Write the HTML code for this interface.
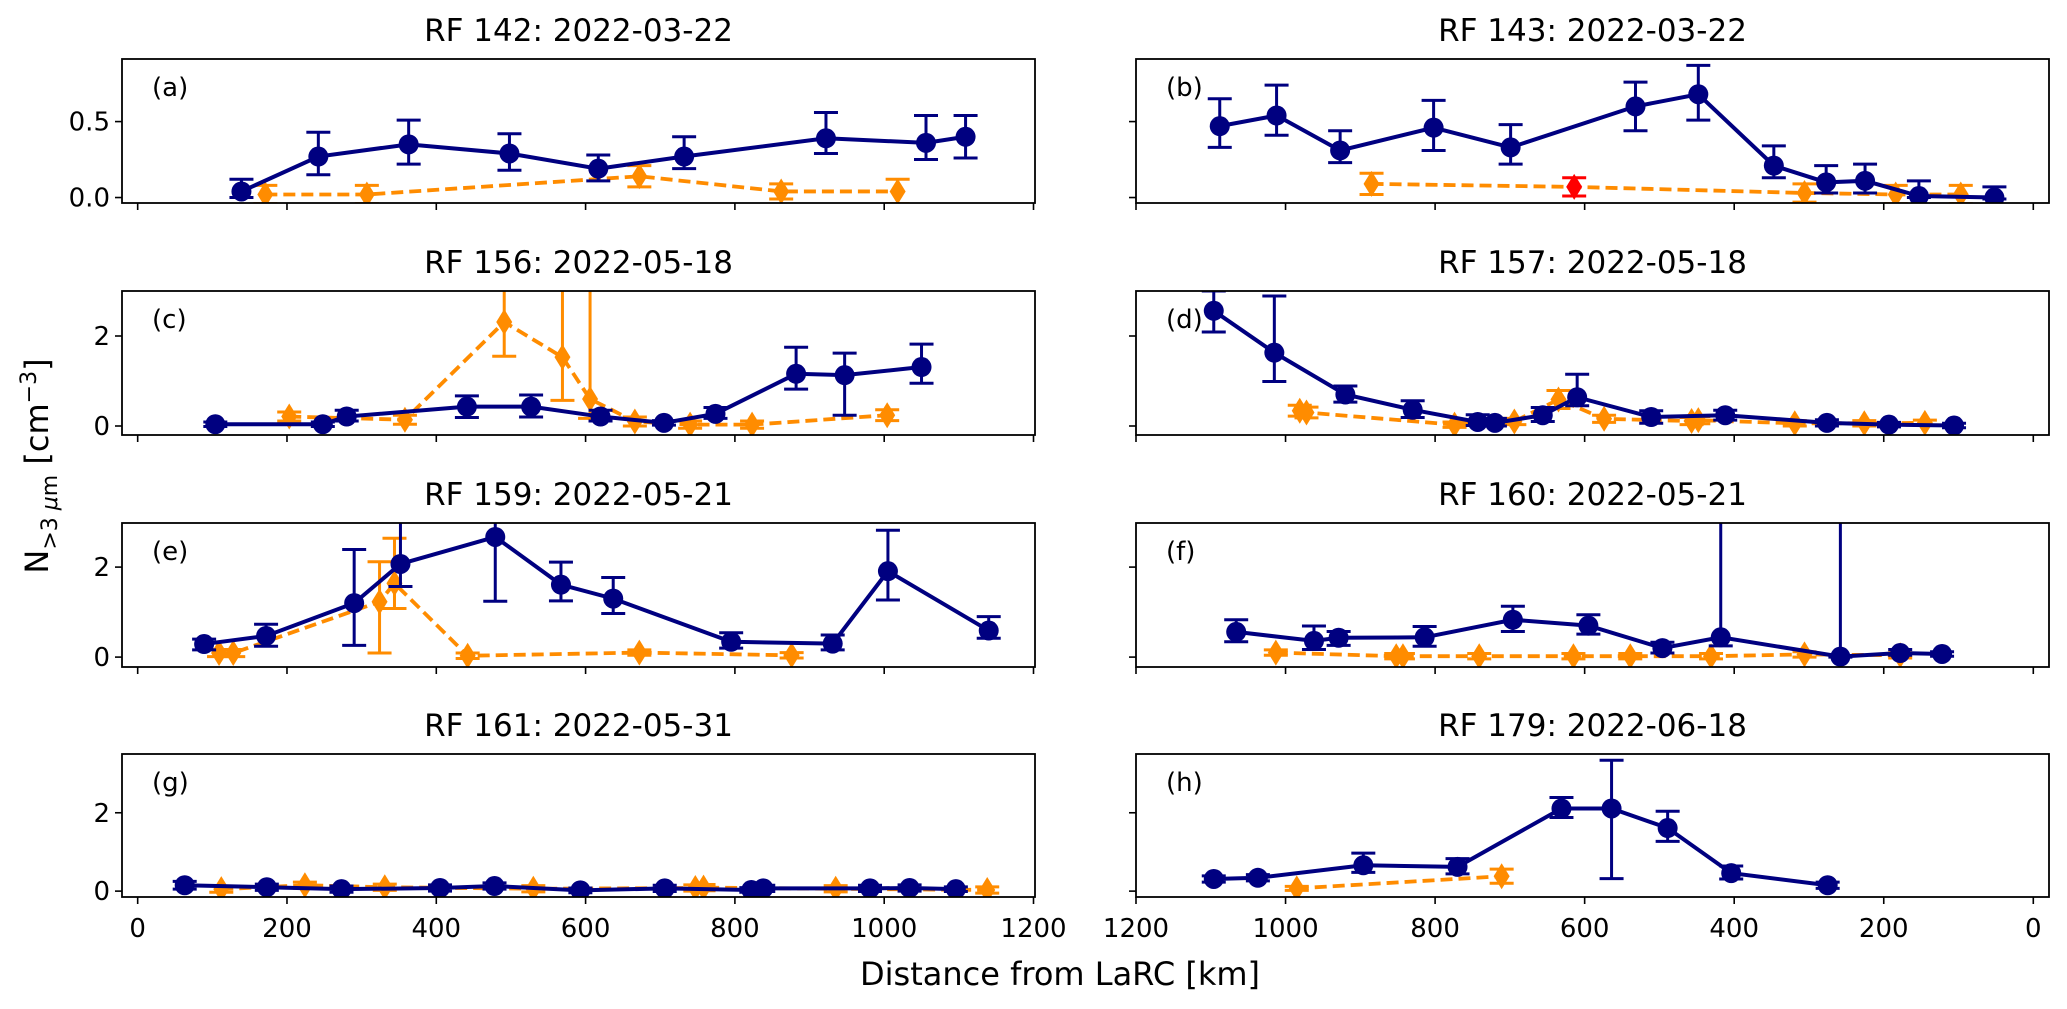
<!DOCTYPE html>
<html><head><meta charset="utf-8"><style>
html,body{margin:0;padding:0;background:#fff;}
svg{display:block;font-family:"DejaVu Sans","Liberation Sans",sans-serif;}
</style></head><body>
<svg id="fig" width="2067" height="1009" viewBox="0 0 2067 1009" xmlns="http://www.w3.org/2000/svg">
<rect x="0" y="0" width="2067" height="1009" fill="#fff"/>
<text x="1060" y="985" font-size="32" text-anchor="middle">Distance from LaRC [km]</text>
<text transform="translate(48,466) rotate(-90)" font-size="32" text-anchor="middle">N<tspan font-size="22" dy="9">&gt;3 <tspan font-style="italic">μ</tspan>m</tspan><tspan dy="-9"> [cm</tspan><tspan font-size="22" dy="-12">−3</tspan><tspan dy="12">]</tspan></text>
</svg>
<script>
// ---- data (km, value, err up, err down) ----
const aBx=[139,242,363,498,617,732,922,1056,1109];
const aBy=[0.04,0.27,0.35,0.29,0.19,0.27,0.39,0.36,0.40];
const aBu=[0.08,0.16,0.16,0.13,0.09,0.13,0.17,0.18,0.14];
const aBl=[0.04,0.12,0.13,0.11,0.08,0.08,0.10,0.11,0.14];
const aOx=[171,307,672,862,1018];
const aOy=[0.02,0.02,0.14,0.04,0.04];
const aOe=[0.06,0.06,0.07,0.05,0.08];

const bBx=[1088,1012,927,802,699,532,448,347,277,225,153,52];
const bBy=[0.47,0.54,0.31,0.46,0.33,0.60,0.68,0.21,0.10,0.11,0.01,0.00];
const bBu=[0.18,0.20,0.13,0.18,0.15,0.16,0.19,0.13,0.11,0.11,0.10,0.07];
const bBl=[0.14,0.13,0.08,0.15,0.11,0.16,0.17,0.08,0.07,0.08,0.01,0.01];
const bOx=[885,614,306,184,97];
const bOy=[0.09,0.07,0.03,0.02,0.02];
const bOe=[0.07,0.06,0.06,0.06,0.06];
const bHighlight=[1];

const cBx=[104,248,280,441,527,620,705,774,882,947,1050];
const cBy=[0.04,0.04,0.21,0.43,0.43,0.21,0.07,0.27,1.16,1.13,1.31];
const cBu=[0.05,0.05,0.14,0.24,0.26,0.14,0.05,0.14,0.59,0.49,0.51];
const cBl=[0.05,0.05,0.10,0.24,0.23,0.10,0.05,0.10,0.34,0.89,0.36];
const cOx=[203,358,491,569,606,666,740,823,1004];
const cOy=[0.21,0.14,2.31,1.53,0.60,0.10,0.03,0.03,0.24];
const cOu=[0.10,0.10,1.50,3.00,3.00,0.10,0.08,0.08,0.12];
const cOl=[0.10,0.10,0.76,0.96,0.43,0.10,0.08,0.08,0.12];

const dBx=[1096,1015,920,830,743,720,656,610,511,412,276,193,106];
const dBy=[2.56,1.63,0.70,0.36,0.09,0.07,0.24,0.64,0.20,0.24,0.07,0.03,0.01];
const dBu=[0.44,1.26,0.19,0.20,0.16,0.10,0.17,0.51,0.14,0.11,0.07,0.05,0.05];
const dBl=[0.47,0.64,0.17,0.17,0.08,0.07,0.14,0.19,0.14,0.11,0.07,0.05,0.05];
const dOx=[981,972,774,694,635,574,457,448,319,226,145];
const dOy=[0.34,0.30,0.03,0.10,0.59,0.16,0.11,0.13,0.06,0.06,0.07];
const dOe=[0.12,0.12,0.06,0.07,0.20,0.08,0.08,0.08,0.06,0.06,0.06];

const eBx=[89,172,290,352,479,567,637,795,931,1005,1140];
const eBy=[0.29,0.47,1.20,2.07,2.67,1.61,1.30,0.34,0.30,1.91,0.59];
const eBu=[0.11,0.26,1.19,1.50,0.50,0.50,0.47,0.20,0.19,0.91,0.31];
const eBl=[0.13,0.23,0.94,0.50,1.43,0.36,0.33,0.14,0.14,0.64,0.17];
const eOx=[109,128,324,344,442,672,876];
const eOy=[0.09,0.09,1.23,1.64,0.03,0.10,0.04];
const eOu=[0.08,0.08,0.89,1.00,0.06,0.06,0.06];
const eOl=[0.08,0.08,1.14,0.56,0.06,0.06,0.06];

const fBx=[1066,962,929,814,696,595,496,418,258,178,122];
const fBy=[0.56,0.36,0.43,0.44,0.83,0.70,0.20,0.44,0.01,0.09,0.07];
const fBu=[0.27,0.33,0.14,0.24,0.30,0.24,0.13,5.00,5.00,0.08,0.05];
const fBl=[0.22,0.19,0.17,0.20,0.26,0.19,0.11,0.19,0.01,0.05,0.05];
const fOx=[1013,852,843,741,615,539,431,306,178];
const fOy=[0.10,0.02,0.02,0.02,0.02,0.02,0.02,0.06,0.04];
const fOe=[0.06,0.06,0.06,0.06,0.06,0.06,0.06,0.06,0.06];

const gBx=[63,173,273,405,478,593,706,822,838,981,1034,1096];
const gBy=[0.15,0.10,0.05,0.08,0.13,0.02,0.07,0.03,0.07,0.07,0.08,0.05];
const gBe=[0.10,0.08,0.08,0.08,0.08,0.06,0.08,0.06,0.08,0.08,0.08,0.06];
const gOx=[112,224,331,530,747,758,935,1138];
const gOy=[0.05,0.15,0.10,0.06,0.08,0.09,0.06,0.03];
const gOe=[0.08,0.08,0.08,0.08,0.08,0.08,0.08,0.08];

const hBx=[1096,1037,896,770,631,564,489,404,275];
const hBy=[0.31,0.34,0.66,0.62,2.11,2.11,1.61,0.46,0.15];
const hBu=[0.08,0.08,0.31,0.21,0.28,1.23,0.43,0.18,0.08];
const hBl=[0.08,0.08,0.18,0.18,0.23,1.79,0.34,0.15,0.08];
const hOx=[985,711];
const hOy=[0.07,0.38];
const hOe=[0.05,0.18];

const titles=["RF 142: 2022-03-22","RF 143: 2022-03-22","RF 156: 2022-05-18","RF 157: 2022-05-18","RF 159: 2022-05-21","RF 160: 2022-05-21","RF 161: 2022-05-31","RF 179: 2022-06-18"];
const letters=["(a)","(b)","(c)","(d)","(e)","(f)","(g)","(h)"];
const xTicks=[0,200,400,600,800,1000,1200];
const yTicksRow=[[0,0.5],[0,2],[0,2],[0,2]];
const yTickLbl=[["0.0","0.5"],["0","2"],["0","2"],["0","2"]];

const NS="http://www.w3.org/2000/svg";
const svg=document.getElementById('fig');
const NAVY="#000080", ORANGE="#ff8c00";
const cols=[{x0:122,x1:1035,k0:-21,k1:1202},{x0:1136,x1:2049,k0:1200,k1:-21}];
const rows=[{y0:59,y1:203,v0:-0.036,v1:0.912},{y0:291,y1:435,v0:-0.2,v1:3.0},{y0:523,y1:667,v0:-0.22,v1:2.98},{y0:754,y1:897,v0:-0.15,v1:3.5}];
function mk(tag,at,parent){const e=document.createElementNS(NS,tag);for(const k in at)e.setAttribute(k,at[k]);(parent||svg).appendChild(e);return e;}

const panels=[
 {Bx:aBx,By:aBy,Bu:aBu,Bl:aBl,Ox:aOx,Oy:aOy,Ou:aOe,Ol:aOe},
 {Bx:bBx,By:bBy,Bu:bBu,Bl:bBl,Ox:bOx,Oy:bOy,Ou:bOe,Ol:bOe,hl:bHighlight},
 {Bx:cBx,By:cBy,Bu:cBu,Bl:cBl,Ox:cOx,Oy:cOy,Ou:cOu,Ol:cOl},
 {Bx:dBx,By:dBy,Bu:dBu,Bl:dBl,Ox:dOx,Oy:dOy,Ou:dOe,Ol:dOe},
 {Bx:eBx,By:eBy,Bu:eBu,Bl:eBl,Ox:eOx,Oy:eOy,Ou:eOu,Ol:eOl},
 {Bx:fBx,By:fBy,Bu:fBu,Bl:fBl,Ox:fOx,Oy:fOy,Ou:fOe,Ol:fOe},
 {Bx:gBx,By:gBy,Bu:gBe,Bl:gBe,Ox:gOx,Oy:gOy,Ou:gOe,Ol:gOe},
 {Bx:hBx,By:hBy,Bu:hBu,Bl:hBl,Ox:hOx,Oy:hOy,Ou:hOe,Ol:hOe}
];

panels.forEach((p,i)=>{
  const c=cols[i%2], r=rows[Math.floor(i/2)], ri=Math.floor(i/2);
  const X=k=>c.x0+(k-c.k0)/(c.k1-c.k0)*(c.x1-c.x0);
  const Y=v=>r.y1-(v-r.v0)/(r.v1-r.v0)*(r.y1-r.y0);
  const g=mk('g',{});
  
  
  const cid='clip'+i;
  const cp=mk('clipPath',{id:cid},g);
  mk('rect',{x:c.x0,y:r.y0,width:c.x1-c.x0,height:r.y1-r.y0},cp);
  const t=mk('text',{x:(c.x0+c.x1)/2,y:r.y0-18,'font-size':31,'text-anchor':'middle'},g);
  t.textContent=titles[i];
  
  
  const lt=mk('text',{x:c.x0+30,y:r.y0+37,'font-size':26},g);
  lt.textContent=letters[i];
  
  
  xTicks.forEach(k=>{
    const tk=mk('line',{x1:X(k),x2:X(k),y1:r.y1,y2:r.y1+7,stroke:'#000','stroke-width':1.6},g);
    
    
    if(ri===3){
      const tl=mk('text',{x:X(k),y:r.y1+40,'font-size':26,'text-anchor':'middle'},g);
      tl.textContent=String(k);
      
      
    }
  });
  yTicksRow[ri].forEach((v,j)=>{
    const tk=mk('line',{x1:c.x0-7,x2:c.x0,y1:Y(v),y2:Y(v),stroke:'#000','stroke-width':1.6},g);
    
    
    if(i%2===0){
      const tl=mk('text',{x:c.x0-12,y:Y(v)+9,'font-size':26,'text-anchor':'end'},g);
      tl.textContent=yTickLbl[ri][j];
      
      
    }
  });
  const dg=mk('g',{'clip-path':'url(#'+cid+')'},g);
  const oPts=p.Ox.map((k,j)=>X(k)+','+Y(p.Oy[j])).join(' ');
  const ol=mk('polyline',{points:oPts,fill:'none',stroke:ORANGE,'stroke-width':3.8,'stroke-dasharray':'12,6'},dg);
  
  
  p.Ox.forEach((k,j)=>{
    const col=(p.hl&&p.hl.includes(j))?'#ff0000':ORANGE;
    const x=X(k),y=Y(p.Oy[j]),yt=Y(p.Oy[j]+p.Ou[j]),yb=Y(p.Oy[j]-p.Ol[j]);
    const eb=mk('path',{d:`M${x},${yt}V${yb}M${x-12},${yt}H${x+12}M${x-12},${yb}H${x+12}`,stroke:col,'stroke-width':3,fill:'none'},dg);
    
    
    const m=mk('path',{d:`M${x},${y-13}L${x+8},${y}L${x},${y+13}L${x-8},${y}Z`,fill:col},dg);
    
    
  });
  const bPts=p.Bx.map((k,j)=>X(k)+','+Y(p.By[j])).join(' ');
  const bl=mk('polyline',{points:bPts,fill:'none',stroke:NAVY,'stroke-width':4},dg);
  
  
  p.Bx.forEach((k,j)=>{
    const x=X(k),y=Y(p.By[j]),yt=Y(p.By[j]+p.Bu[j]),yb=Y(p.By[j]-p.Bl[j]);
    const eb=mk('path',{d:`M${x},${yt}V${yb}M${x-12},${yt}H${x+12}M${x-12},${yb}H${x+12}`,stroke:NAVY,'stroke-width':3,fill:'none'},dg);
    
    
    const m=mk('circle',{cx:x,cy:y,r:10,fill:NAVY},dg);
    
    
  });
  const fr=mk('rect',{x:c.x0,y:r.y0,width:c.x1-c.x0,height:r.y1-r.y0,fill:'none',stroke:'#000','stroke-width':1.8},g);
  
  
});
</script>
</body></html>
